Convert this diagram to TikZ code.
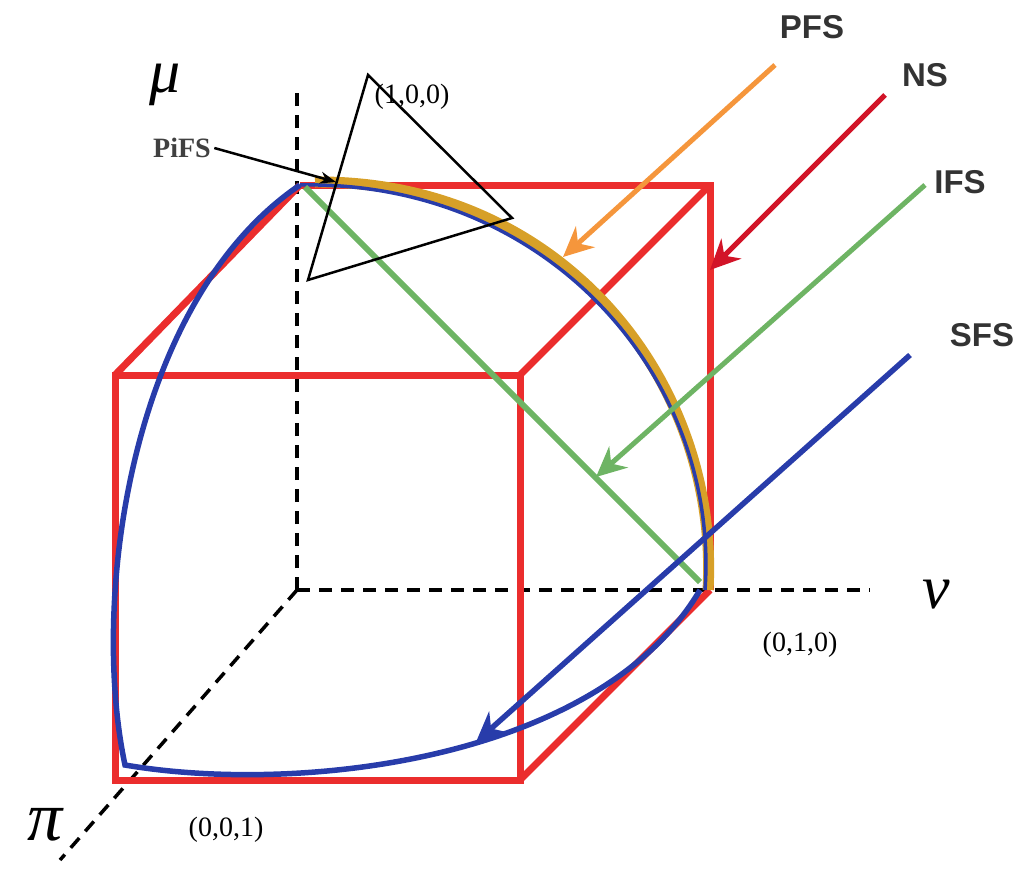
\documentclass[tikz,border=0pt]{standalone}
\usepackage{fontspec}
\newfontfamily\hv{Liberation Sans}
\newfontfamily\tm{Liberation Serif}
\usetikzlibrary{arrows.meta}
\begin{document}
\begin{tikzpicture}[x=1pt,y=-1pt,
 ax/.style={line width=3.5pt,dash pattern=on 13pt off 9pt},
 cube/.style={draw={rgb,255:red,235;green,45;blue,45},line width=7pt},
 lab/.style={font=\hv\bfseries\fontsize{33}{33}\selectfont,text=black!80},
 co/.style={font=\tm\fontsize{28}{28}\selectfont}]
\definecolor{bl}{RGB}{40,60,170}
\definecolor{gr}{RGB}{110,180,100}
\definecolor{org}{RGB}{245,150,60}
\definecolor{gold}{RGB}{215,160,40}
\definecolor{rd}{RGB}{210,20,40}
\useasboundingbox (0,0) rectangle (1031,875);
\coordinate (O) at (297,590);
\coordinate (muT) at (297,85);
\coordinate (vE) at (870,590);
\coordinate (piE) at (60,860);
\draw[ax] (O)--(muT); \draw[ax] (O)--(vE); \draw[ax] (O)--(piE);
% cube
\draw[cube] (115,375) rectangle (520,780);
\draw[cube] (300,185)--(710,185)--(710,590);
\draw[cube] (115,375)--(300,185);
\draw[cube] (520,375)--(710,185);
\draw[cube] (520,780)--(710,590);
% orange arc
\draw[gold,line width=11pt] (315,182) .. controls (560,180) and (720,380) .. (708,590);
\draw[bl,line width=3.5pt] (300,185) .. controls (550,180) and (720,380) .. (705,590);
% green
\draw[gr,line width=6pt] (305,187)--(700,582);
% blue outer
\draw[bl,line width=5.5pt] (300,185) .. controls (130,300) and (90,600) .. (125,765)
 .. controls (300,795) and (600,760) .. (700,590);
% triangle
\coordinate (tA) at (368,75); \coordinate (tB) at (512,218); \coordinate (tC) at (308,280);
\draw[line width=2.5pt] (tA)--(tB)--(tC)--cycle;
% arrows
\draw[org,line width=5pt,-{Stealth[length=30pt,width=28pt]}] (775,65)--(563,257);
\draw[rd,line width=5pt,-{Stealth[length=30pt,width=28pt]}] (885,95)--(710,270);
\draw[gr,line width=5pt,-{Stealth[length=30pt,width=28pt]}] (925,185)--(596,477);
\draw[bl,line width=5.5pt,-{Stealth[length=30pt,width=28pt]}] (910,355)--(476,742);
\node[lab] (pfs) at (812,27) {PFS};
\node[lab] (ns) at (925,75) {NS};
\node[lab] (ifs) at (960,182) {IFS};
\node[lab] (sfs) at (982,335) {SFS};
\node[font=\tm\itshape\fontsize{62}{62}\selectfont] (mu) at (165,85) {μ};
\node[font=\tm\itshape\fontsize{62}{62}\selectfont] (v) at (936,595) {v};
\node[font=\tm\itshape\fontsize{70}{70}\selectfont] (pi) at (45,825) {π};
\node[co] (c1) at (412,97) {(1,0,0)};
\node[co] (c2) at (800,645) {(0,1,0)};
\node[co] (c3) at (226,830) {(0,0,1)};
\node[font=\tm\bfseries\fontsize{28}{28}\selectfont,text=black!75] (pifs) at (182,148) {PiFS};
\coordinate (pt) at (336,182);
\draw[line width=2.5pt,-{Stealth[length=16pt,width=12pt]}] (pifs.east)--(pt);
\end{tikzpicture}
\end{document}
